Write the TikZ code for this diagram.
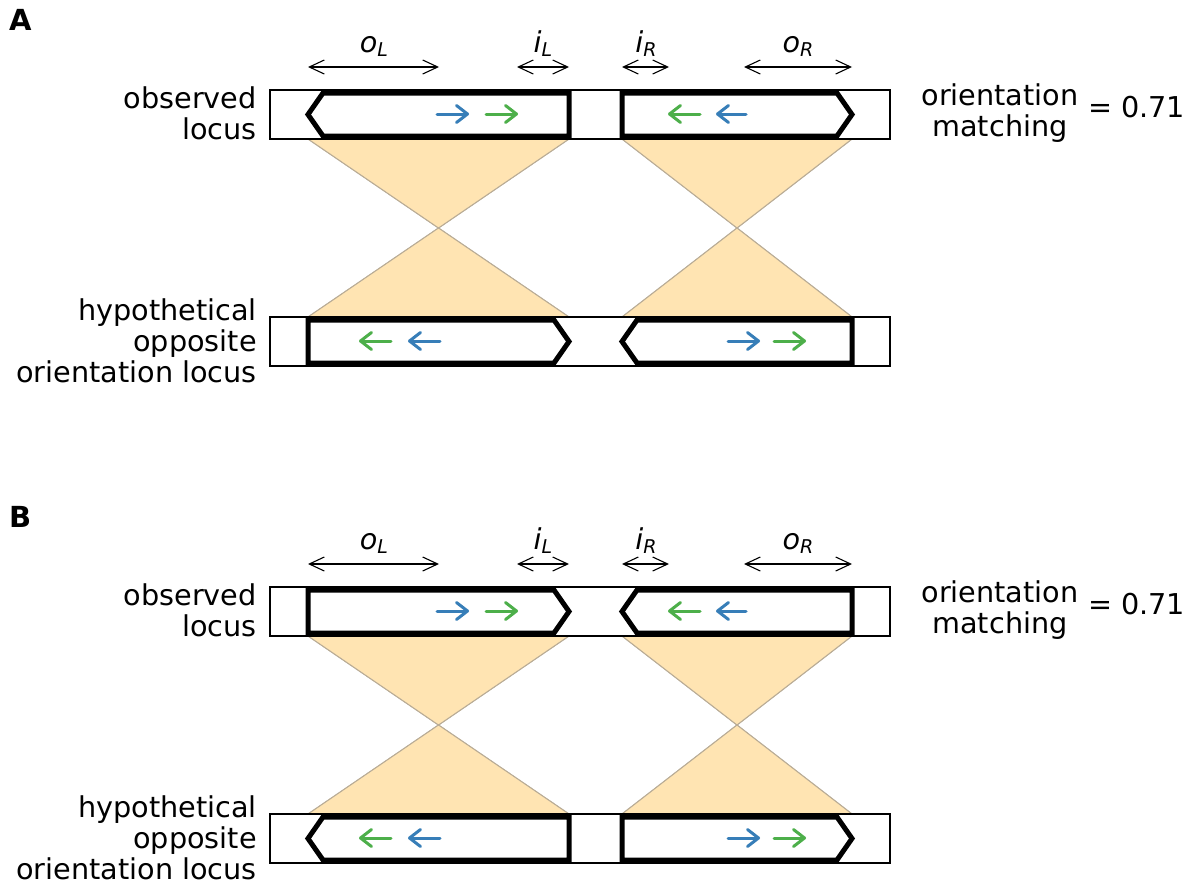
\documentclass[tikz,border=0pt]{standalone}
\usepackage{fontspec}
\setmainfont{DejaVu Sans}
\usetikzlibrary{arrows.meta}

\definecolor{setblue}{RGB}{55,126,184}
\definecolor{setgreen}{RGB}{77,175,74}
\definecolor{conefill}{RGB}{255,228,178}
\definecolor{coneedge}{RGB}{185,172,150}

% subscript of the span labels
\newcommand\lowidx[1]{\raisebox{-4pt}{\fontsize{19}{19}\selectfont #1}}

% gene outlines: x-left, x-right, y-middle
\newcommand\geneLeftTip[3]{\draw[gene] (#1,#3) -- (#1+15,#3-21.5) -- (#2,#3-21.5) -- (#2,#3+21.5) -- (#1+15,#3+21.5) -- cycle;}
\newcommand\geneRightTip[3]{\draw[gene] (#2,#3) -- (#2-15,#3-21.5) -- (#1,#3-21.5) -- (#1,#3+21.5) -- (#2-15,#3+21.5) -- cycle;}

\tikzset{
  lbl/.style={font=\fontsize{28.7}{31}\selectfont, inner sep=0pt},
  gene/.style={draw=black, line width=5pt, fill=white, line join=miter},
  locusbox/.style={draw=black, line width=1.2pt, fill=white},
  cone/.style={fill=conefill, draw=coneedge, line width=1pt},
  span/.style={line width=1.1pt, {Straight Barb[length=15pt,width=14pt]}-{Straight Barb[length=15pt,width=14pt]}},
  dir/.style={line width=3pt, line cap=round, -{Straight Barb[length=11pt,width=17pt,round]}},
}

% one panel: #1 letter, #2..#5 gene shapes (observed left/right, hypothetical left/right)
\newcommand\drawpanel[5]{%
  \node[font=\fontsize{29}{29}\selectfont\bfseries, anchor=base west, inner sep=0pt] (#1lab) at (9,30) {#1};
  % cones linking the two loci
  \coordinate (#1apL) at (438.5,228);
  \coordinate (#1apR) at (737,228);
  \fill[cone] (308,139) -- (#1apL) -- (569,139) -- cycle;
  \fill[cone] (308,317) -- (#1apL) -- (569,317) -- cycle;
  \fill[cone] (622,139) -- (#1apR) -- (852,139) -- cycle;
  \fill[cone] (622,317) -- (#1apR) -- (852,317) -- cycle;
  \draw[cone] (308,139) -- (#1apL) -- (569,139) (308,317) -- (#1apL) -- (569,317);
  \draw[cone] (622,139) -- (#1apR) -- (852,139) (622,317) -- (#1apR) -- (852,317);
  % loci
  \draw[locusbox] (270,90) rectangle (890,139);
  \draw[locusbox] (270,317) rectangle (890,366);
  #2{308}{569}{114.5}
  #3{622}{852}{114.5}
  #4{308}{569}{341.5}
  #5{622}{852}{341.5}
  % orientation arrows
  \draw[dir, setblue]  (437,114) -- (469,114);
  \draw[dir, setgreen] (486,114) -- (518,114);
  \draw[dir, setgreen] (700,114) -- (668,114);
  \draw[dir, setblue]  (746,114) -- (716,114);
  \draw[dir, setgreen] (391,341) -- (359,341);
  \draw[dir, setblue]  (440,341) -- (408,341);
  \draw[dir, setblue]  (728,341) -- (760,341);
  \draw[dir, setgreen] (774,341) -- (806,341);
  % spans
  \coordinate (#1oLa) at (308,67); \coordinate (#1oLb) at (439,67);
  \coordinate (#1iLa) at (517,67); \coordinate (#1iLb) at (569,67);
  \coordinate (#1iRa) at (622,67); \coordinate (#1iRb) at (669,67);
  \coordinate (#1oRa) at (744,67); \coordinate (#1oRb) at (852,67);
  \draw[span] (#1oLa) -- (#1oLb);
  \draw[span] (#1iLa) -- (#1iLb);
  \draw[span] (#1iRa) -- (#1iRb);
  \draw[span] (#1oRa) -- (#1oRb);
  \node[lbl, anchor=base] (#1toL) at (374,52) {\itshape o\lowidx{L}};
  \node[lbl, anchor=base] (#1tiL) at (543,52) {\itshape i\lowidx{L}};
  \node[lbl, anchor=base] (#1tiR) at (646,52) {\itshape i\lowidx{R}};
  \node[lbl, anchor=base] (#1toR) at (798,52) {\itshape o\lowidx{R}};
  % texts
  \node[lbl, align=right, anchor=east] (#1obs) at (257,113) {observed\\locus};
  \node[lbl, align=right, anchor=east] (#1hyp) at (257,341) {hypothetical\\opposite\\orientation locus};
  \node[lbl, align=center] (#1om) at (1000,113) {orientation\\matching};
  \node[lbl, anchor=base west] (#1val) at (1088,117) {= 0.71};
}

\begin{document}
\begin{tikzpicture}[x=1pt, y=-1pt]
  \useasboundingbox[fill=white] (0,0) rectangle (1187,881);
  \begin{scope}
    \drawpanel{A}{\geneLeftTip}{\geneRightTip}{\geneRightTip}{\geneLeftTip}
  \end{scope}
  \begin{scope}[yshift=-497pt]
    \drawpanel{B}{\geneRightTip}{\geneLeftTip}{\geneLeftTip}{\geneRightTip}
  \end{scope}
\end{tikzpicture}
\end{document}
